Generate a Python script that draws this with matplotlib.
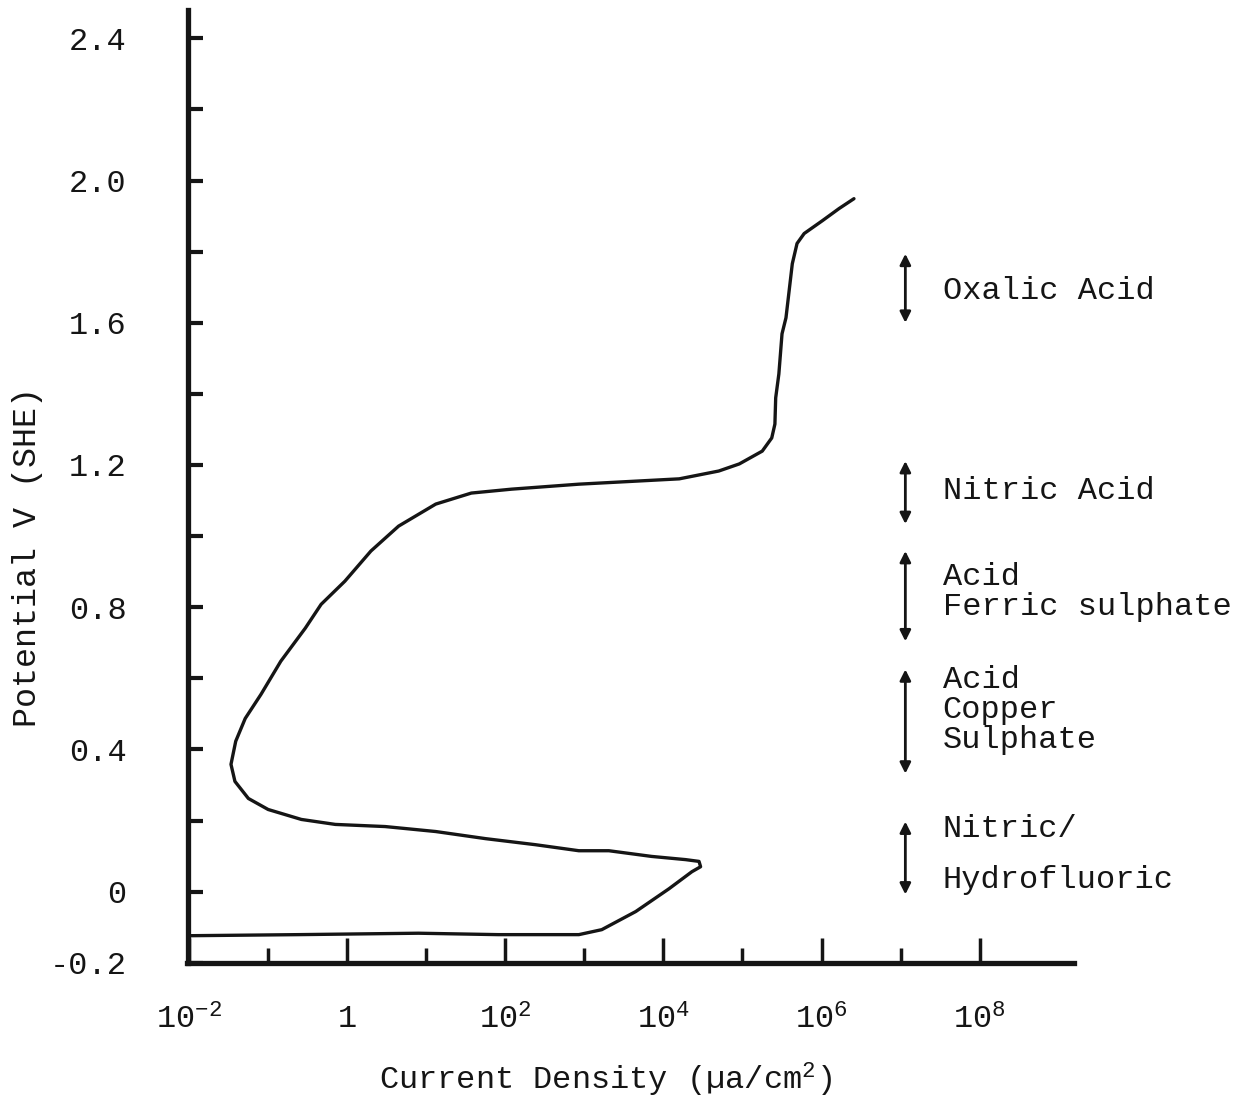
import numpy as np
import matplotlib
matplotlib.use("Agg")
import matplotlib.pyplot as plt

plt.rcParams['font.family'] = ['Liberation Mono', 'DejaVu Sans Mono']
plt.rcParams['mathtext.fontset'] = 'custom'
plt.rcParams['mathtext.rm'] = 'Liberation Mono'
plt.rcParams['mathtext.it'] = 'Liberation Mono'

# polarisation curve: log10 of current density and potential
log_current = [-1.99, -0.62, 0.90, 1.91, 2.93, 3.22, 3.65, 4.07, 4.36, 4.47, 4.45, 4.28,
               3.85, 3.31, 2.93, 2.38, 1.75, 1.12, 0.48, -0.15, -0.58, -1.00, -1.25, -1.42,
               -1.47, -1.41, -1.29, -1.09, -0.84, -0.53, -0.33, -0.03, 0.30, 0.65, 1.12,
               1.57, 2.08, 2.93, 4.20, 4.70, 4.96, 5.25, 5.37, 5.41, 5.42, 5.46, 5.50,
               5.55, 5.59, 5.63, 5.69, 5.78, 6.01, 6.22, 6.41]
potential = [-0.124, -0.121, -0.117, -0.121, -0.121, -0.107, -0.056, 0.008, 0.056, 0.070, 0.085, 0.090,
             0.099, 0.115, 0.115, 0.132, 0.149, 0.169, 0.183, 0.189, 0.203, 0.231, 0.262, 0.310,
             0.358, 0.423, 0.487, 0.555, 0.648, 0.741, 0.808, 0.873, 0.958, 1.028, 1.090,
             1.121, 1.132, 1.146, 1.161, 1.183, 1.203, 1.239, 1.276, 1.315, 1.389, 1.456, 1.569,
             1.614, 1.690, 1.766, 1.823, 1.851, 1.887, 1.921, 1.949]

# etching solutions and the potential range of each
solutions = ["Oxalic Acid", "Nitric Acid", "Acid\nFerric sulphate", "Acid\nCopper\nSulphate"]
sol_low = [1.60, 1.034, 0.704, 0.332]
sol_high = [1.794, 1.211, 0.958, 0.625]
sol_text_y = [1.69, 1.127, 0.842, 0.51]
nhf_range = [-0.008, 0.197]

y_ticks = [-0.2, 0, 0.4, 0.8, 1.2, 1.6, 2.0, 2.4]
y_ticklabels = ["-0.2", "0", "0.4", "0.8", "1.2", "1.6", "2.0", "2.4"]
x_major = [-2, 0, 2, 4, 6, 8]
x_ticklabels = [r"$\mathregular{10^{-2}}$", "1", r"$\mathregular{10^{2}}$",
                r"$\mathregular{10^{4}}$", r"$\mathregular{10^{6}}$", r"$\mathregular{10^{8}}$"]
x_minor = [-1, 1, 3, 5, 7]

ink = '#151515'
fs = 23

fig = plt.figure(figsize=(12.5, 10.99), dpi=100)
ax = fig.add_axes([0.150, 0.124, 0.709, 0.867])

ax.plot(10.0 ** np.array(log_current), potential, color=ink, lw=2.4,
        solid_joinstyle='round', solid_capstyle='round')

ax.set_xscale('log')
ax.set_xlim(10 ** -2.02, 10 ** 9.19)
ax.set_ylim(-0.2, 2.48)

ax.set_yticks(y_ticks)
ax.set_yticklabels(y_ticklabels)
ax.set_yticks(np.arange(0.2, 2.41, 0.4), minor=True)
ax.set_xticks([10.0 ** k for k in x_major])
ax.set_xticklabels(x_ticklabels)
ax.set_xticks([10.0 ** k for k in x_minor], minor=True)
ax.xaxis.set_minor_formatter(plt.NullFormatter())
ax.yaxis.set_minor_formatter(plt.NullFormatter())

ax.tick_params(axis='y', which='both', direction='in', length=11, width=3, color=ink,
               labelsize=fs, pad=44, labelcolor=ink)
ax.tick_params(axis='x', which='major', direction='in', length=18, width=2.5, color=ink,
               labelsize=fs, pad=30, labelcolor=ink)
ax.tick_params(axis='x', which='minor', direction='in', length=11, width=2.5, color=ink)

for s in ['top', 'right']:
    ax.spines[s].set_visible(False)
for s in ['left', 'bottom']:
    ax.spines[s].set_linewidth(3.8)
    ax.spines[s].set_color(ink)

# double-headed arrows with solution names
arrow_x = 10 ** 7.06
text_x = 10 ** 7.53
arrow_kw = dict(arrowstyle='<|-|>', color=ink, lw=2.0, mutation_scale=16, shrinkA=0, shrinkB=0)
for name, lo, hi, ty in zip(solutions, sol_low, sol_high, sol_text_y):
    ax.annotate('', xy=(arrow_x, hi), xytext=(arrow_x, lo), arrowprops=arrow_kw)
    ax.text(text_x, ty, name, fontsize=fs, color=ink, va='center', ha='left', linespacing=1.0)
ax.annotate('', xy=(arrow_x, nhf_range[1]), xytext=(arrow_x, nhf_range[0]), arrowprops=arrow_kw)
ax.text(text_x, 0.175, "Nitric/", fontsize=fs, color=ink, va='center', ha='left')
ax.text(text_x, 0.034, "Hydrofluoric", fontsize=fs, color=ink, va='center', ha='left')

fig.text(605 / 1250, 1 - 1080 / 1099, "Current Density (µa/cm$^2$)", fontsize=fs,
         color=ink, ha='center', va='center')
fig.text(28 / 1250, 1 - 557 / 1099, "Potential V (SHE)", fontsize=24, color=ink,
         ha='center', va='center', rotation=90)

fig.savefig("out.png", dpi=100)
